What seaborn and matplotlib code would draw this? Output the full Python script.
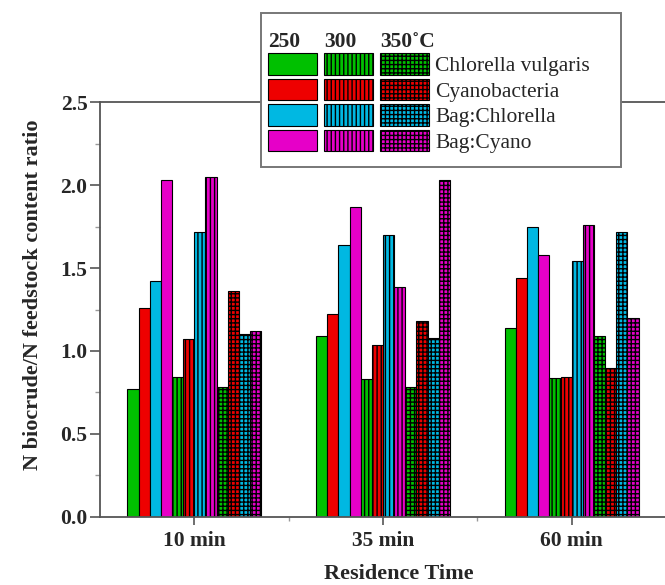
import matplotlib
matplotlib.use("Agg")
import numpy as np
import pandas as pd
import seaborn as sns
import matplotlib.pyplot as plt
from matplotlib.patches import Patch, Rectangle
from matplotlib.text import Annotation
from matplotlib.ticker import MultipleLocator, FixedLocator

# ---------------- data ----------------
times = ["10 min", "35 min", "60 min"]
temps = ["250", "300", "350"]
species = ["Chlorella vulgaris", "Cyanobacteria", "Bag:Chlorella", "Bag:Cyano"]

chlorella_250 = [0.77, 1.09, 1.14]
cyano_250 = [1.26, 1.22, 1.44]
bagchl_250 = [1.42, 1.64, 1.75]
bagcy_250 = [2.03, 1.87, 1.58]

chlorella_300 = [0.84, 0.83, 0.835]
cyano_300 = [1.07, 1.035, 0.845]
bagchl_300 = [1.72, 1.70, 1.54]
bagcy_300 = [2.05, 1.385, 1.76]

chlorella_350 = [0.78, 0.78, 1.09]
cyano_350 = [1.36, 1.18, 0.90]
bagchl_350 = [1.10, 1.08, 1.72]
bagcy_350 = [1.12, 2.03, 1.20]

values = {
    "250": [chlorella_250, cyano_250, bagchl_250, bagcy_250],
    "300": [chlorella_300, cyano_300, bagchl_300, bagcy_300],
    "350": [chlorella_350, cyano_350, bagchl_350, bagcy_350],
}
yticks = [0.0, 0.5, 1.0, 1.5, 2.0, 2.5]

# ---------------- style ----------------
colors = ["#00C000", "#EE0000", "#00B8E2", "#E600C8"]
hatches = {"250": "", "300": "||||", "350": "++++"}

sns.set_style("ticks")
plt.rcParams["font.family"] = ["Liberation Serif", "DejaVu Serif"]
plt.rcParams["hatch.linewidth"] = 1.0

rows = []
for t in temps:
    for s, vals in zip(species, values[t]):
        for tm, v in zip(times, vals):
            rows.append({"time": tm, "key": f"{t} {s}", "value": v})
df = pd.DataFrame(rows)
hue_order = [f"{t} {s}" for t in temps for s in species]
palette = {f"{t} {s}": colors[i] for t in temps for i, s in enumerate(species)}

W, H = 665, 585
fig = plt.figure(figsize=(W / 100, H / 100), dpi=100)
ax = fig.add_axes([100 / W, 1 - 516.7 / H, 566 / W, (516.7 - 102.3) / H])

sns.barplot(data=df, x="time", y="value", hue="key", hue_order=hue_order,
            order=times, palette=palette, saturation=1, width=0.71, gap=0,
            errorbar=None, edgecolor="black", linewidth=0.8, legend=False, ax=ax)

for key, cont in zip(hue_order, ax.containers):
    t = key.split()[0]
    for bar in cont:
        bar.set_hatch(hatches[t])

ax.set_ylim(0, 2.5)
ax.set_xlim(-0.5, 2.5)
ax.yaxis.set_major_locator(FixedLocator(yticks))
ax.set_yticklabels([f"{v:.1f}" for v in yticks])
ax.yaxis.set_minor_locator(MultipleLocator(0.25))
ax.xaxis.set_minor_locator(FixedLocator([0.5, 1.5]))

spine_c = "#555555"
for side in ["left", "bottom", "top"]:
    ax.spines[side].set_color(spine_c)
    ax.spines[side].set_linewidth(1.3)
ax.spines["right"].set_visible(False)

ax.tick_params(axis="y", which="major", length=7, width=1.2, color=spine_c,
               labelsize=15.5, pad=2)
ax.tick_params(axis="y", which="minor", length=3.5, width=1.0, color="#999999")
ax.tick_params(axis="x", which="major", length=6, width=1.2, color=spine_c,
               labelsize=15.5, pad=4)
ax.tick_params(axis="x", which="minor", length=3, width=1.0, color="#999999")
for lab in ax.get_xticklabels() + ax.get_yticklabels():
    lab.set_fontweight("bold")

ax.set_xlabel("Residence Time", fontsize=16, fontweight="bold")
ax.xaxis.set_label_coords(0.528, -0.115)
ax.set_ylabel("N biocrude/N feedstock content ratio", fontsize=16,
              fontweight="bold")
ax.yaxis.set_label_coords(-0.100, 0.535)

# ---------------- legend ----------------
fs = 15.5
fpx = fs * 100 / 72
handles = [Patch(facecolor=colors[i], edgecolor="black", linewidth=0.8,
                 hatch=hatches[t]) for t in temps for i in range(4)]
labels = [""] * 8 + species

frame = Rectangle((261 / W, 1 - 166.7 / H), (621 - 261) / W, (166.7 - 12.7) / H,
                  transform=fig.transFigure, facecolor="white",
                  edgecolor="#777777", linewidth=1.4, zorder=3)
fig.add_artist(frame)

leg = fig.legend(handles, labels, ncol=3, loc="upper left",
                 bbox_to_anchor=(268 / W, 1 - 53 / H),
                 bbox_transform=fig.transFigure, frameon=False,
                 borderpad=0, borderaxespad=0, fontsize=fs,
                 handlelength=48.5 / fpx, handleheight=25 / fpx,
                 handletextpad=6.5 / fpx, columnspacing=1.0 / fpx,
                 labelspacing=2.6 / fpx)
leg.set_zorder(5)

heads = ["250", "300", "350\u02daC"]
for j, txt in enumerate(heads):
    h = leg.legend_handles[j * 4]
    ann = Annotation(txt, xy=(0, 1), xycoords=h, xytext=(0, 6),
                     textcoords="offset pixels", ha="left", va="baseline",
                     fontsize=fs, fontweight="bold", annotation_clip=False)
    ann.set_zorder(6)
    fig.add_artist(ann)

fig.savefig("out.png", dpi=100)
